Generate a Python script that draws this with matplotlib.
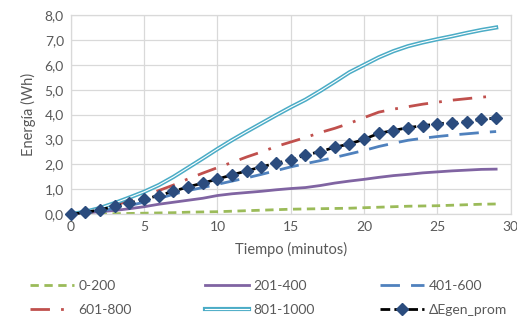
import matplotlib as mpl
mpl.use('Agg')
import matplotlib.pyplot as plt
import matplotlib.patheffects as pe
import numpy as np

plt.rcParams['font.family'] = ['Lato', 'DejaVu Sans']

# datos (minutos 0..29)
tiempo = list(range(30))
e_0_200 = [0.0, 0.0, 0.01, 0.02, 0.03, 0.04, 0.05, 0.06, 0.08, 0.09,
           0.10, 0.12, 0.14, 0.16, 0.18, 0.20, 0.21, 0.22, 0.23, 0.24,
           0.26, 0.28, 0.30, 0.32, 0.33, 0.34, 0.36, 0.38, 0.40, 0.41]
e_201_400 = [0.0, 0.05, 0.10, 0.15, 0.22, 0.30, 0.40, 0.48, 0.56, 0.64,
             0.75, 0.82, 0.87, 0.92, 0.98, 1.03, 1.07, 1.15, 1.25, 1.33,
             1.40, 1.48, 1.55, 1.60, 1.66, 1.70, 1.74, 1.77, 1.80, 1.81]
e_401_600 = [0.0, 0.05, 0.13, 0.23, 0.35, 0.48, 0.63, 0.80, 0.95, 1.07,
             1.20, 1.33, 1.46, 1.60, 1.75, 1.90, 2.03, 2.15, 2.28, 2.42,
             2.56, 2.72, 2.85, 2.97, 3.05, 3.12, 3.18, 3.23, 3.28, 3.32]
e_601_800 = [0.0, 0.10, 0.22, 0.37, 0.53, 0.73, 0.95, 1.17, 1.42, 1.65,
             1.87, 2.08, 2.30, 2.50, 2.72, 2.90, 3.08, 3.28, 3.45, 3.65,
             3.88, 4.10, 4.22, 4.32, 4.42, 4.50, 4.58, 4.64, 4.70, 4.75]
e_801_1000 = [0.0, 0.10, 0.25, 0.45, 0.67, 0.90, 1.17, 1.50, 1.87, 2.24,
              2.62, 2.98, 3.32, 3.65, 3.98, 4.30, 4.60, 4.95, 5.32, 5.70,
              6.00, 6.30, 6.55, 6.75, 6.90, 7.03, 7.15, 7.28, 7.40, 7.50]
e_gen_prom = [0.0, 0.07, 0.18, 0.31, 0.45, 0.60, 0.75, 0.92, 1.10, 1.25,
              1.41, 1.58, 1.74, 1.90, 2.05, 2.18, 2.38, 2.51, 2.69, 2.82,
              3.01, 3.25, 3.36, 3.48, 3.55, 3.63, 3.68, 3.72, 3.81, 3.86]

gris = '#595959'

fig = plt.figure(figsize=(5.17, 3.27), dpi=100)
ax = fig.add_axes([0.137, 0.345, 0.851, 0.609])

l1, = ax.plot(tiempo, e_0_200, color='#9BBB59', lw=2, dashes=(3, 2), label='0-200')
l2, = ax.plot(tiempo, e_201_400, color='#8064A2', lw=2, label='201-400')
l3, = ax.plot(tiempo, e_401_600, color='#4F81BD', lw=2, dashes=(7, 4), label='401-600')
l4, = ax.plot(tiempo, e_601_800, color='#C0504D', lw=2, dashes=(7, 4, 1, 4), label='601-800')
l5, = ax.plot(tiempo, e_801_1000, color='white', lw=0.8, label='801-1000',
              path_effects=[pe.Stroke(linewidth=3.0, foreground='#4BACC6'), pe.Normal()])
l6, = ax.plot(tiempo, e_gen_prom, color='black', lw=2, dashes=(3.5, 1.5), marker='D',
              markersize=6.5, markerfacecolor='#2B4C7E', markeredgecolor='#2B4C7E',
              label='\u0394Egen_prom', clip_on=False, zorder=5)

ax.set_xlim(0, 30)
ax.set_ylim(0, 8)
ax.set_xticks(range(0, 31, 5))
ax.set_yticks(range(0, 9))
ax.set_yticklabels([('%.1f' % v).replace('.', ',') for v in range(0, 9)])
ax.tick_params(length=0, labelsize=10, colors=gris, pad=5)
ax.grid(True, color='#D9D9D9', lw=0.9)
ax.set_axisbelow(True)
for s in ax.spines.values():
    s.set_color('#D9D9D9')
    s.set_linewidth(0.9)

ax.set_xlabel('Tiempo (minutos)', fontsize=10.5, color=gris, labelpad=6)
ax.set_ylabel('Energía (Wh)', fontsize=10.5, color=gris, labelpad=6)

# leyenda: una columna por cada posicion
columnas = [(l1, l4), (l2, l5), (l3, l6)]
x_cols = [30, 205, 380]
for hs, xc in zip(columnas, x_cols):
    lg = fig.legend(list(hs), [h.get_label() for h in hs],
                    loc='upper left', bbox_to_anchor=(xc / 517, 1 - 280 / 327),
                    frameon=False, fontsize=10, labelcolor=gris,
                    handlelength=3.2, handletextpad=0.3, borderpad=0,
                    borderaxespad=0, labelspacing=0.85)

fig.savefig('out.png', dpi=100)
